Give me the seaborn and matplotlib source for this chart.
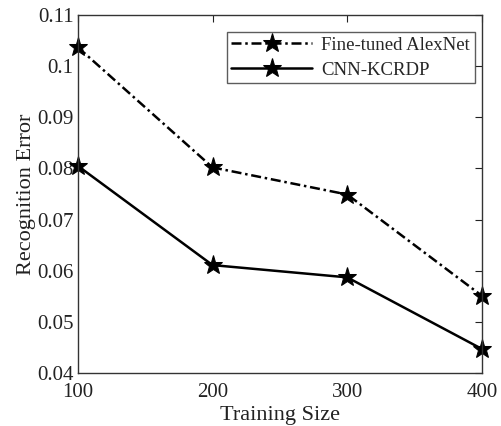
import matplotlib
matplotlib.use("Agg")
import matplotlib.pyplot as plt
import seaborn as sns
import pandas as pd

training_size = [100, 200, 300, 400]
alexnet_err = [0.1037, 0.0802, 0.0749, 0.0551]
kcrdp_err = [0.0805, 0.0611, 0.0587, 0.0447]
series_names = ["Fine-tuned AlexNet", "CNN-KCRDP"]

df = pd.DataFrame({
    "Training Size": training_size * 2,
    "Recognition Error": alexnet_err + kcrdp_err,
    "Method": [series_names[0]] * 4 + [series_names[1]] * 4,
})

sns.set_theme(style="white")
plt.rcParams["font.family"] = ["Liberation Serif", "DejaVu Serif"]

fig = plt.figure(figsize=(5.02, 4.26), dpi=100)
ax = fig.add_axes([0.155, 0.1244, 0.805, 0.8404])

sns.lineplot(data=df, x="Training Size", y="Recognition Error", hue="Method",
             style="Method", palette=["black", "black"],
             dashes={series_names[0]: (4, 1.5, 1, 1.5), series_names[1]: ""},
             markers={series_names[0]: "*", series_names[1]: "*"},
             markersize=14, markeredgecolor="black", linewidth=1.8, ax=ax,
             clip_on=False)

ax.set_xlim(100, 400)
ax.set_ylim(0.04, 0.11)
ax.set_xticks(training_size)
ax.set_yticks([0.04, 0.05, 0.06, 0.07, 0.08, 0.09, 0.10, 0.11])
ax.set_yticklabels(["0.04", "0.05", "0.06", "0.07", "0.08", "0.09", "0.1", "0.11"])
ax.tick_params(direction="in", top=True, right=True, length=5, width=0.8,
               labelsize=15, colors="#222222")
ax.tick_params(axis="x", pad=7)
ax.tick_params(axis="y", pad=3)
for s in ax.spines.values():
    s.set_color("#333333")
    s.set_linewidth(1.0)
ax.set_xlabel("Training Size", fontsize=16, color="#222222", labelpad=3)
ax.set_ylabel("Recognition Error", fontsize=16, color="#222222", labelpad=1)

leg = ax.legend(loc="upper right", bbox_to_anchor=(0.982, 0.952), fontsize=13.5,
                frameon=True, fancybox=False, edgecolor="#333333",
                handlelength=4.3, handletextpad=0.5, borderpad=0.25,
                labelspacing=0.4, borderaxespad=0)
leg.get_frame().set_linewidth(1.0)

fig.savefig("out.png", dpi=100)
